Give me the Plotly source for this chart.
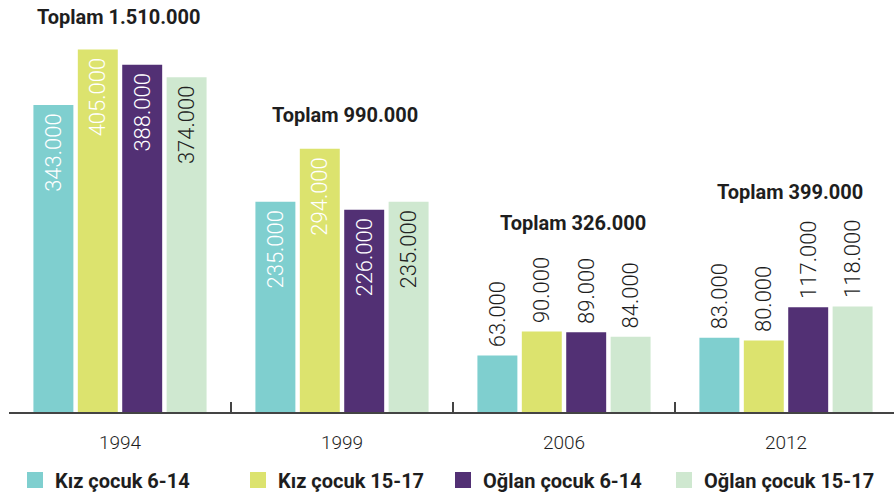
import plotly.graph_objects as go

years = ["1994", "1999", "2006", "2012"]
series_names = ["Kız çocuk 6-14", "Kız çocuk 15-17", "Oğlan çocuk 6-14", "Oğlan çocuk 15-17"]
kiz_6_14 = [343000, 235000, 63000, 83000]
kiz_15_17 = [405000, 294000, 90000, 80000]
oglan_6_14 = [388000, 226000, 89000, 117000]
oglan_15_17 = [374000, 235000, 84000, 118000]
totals = [1510000, 990000, 326000, 399000]

series_values = [kiz_6_14, kiz_15_17, oglan_6_14, oglan_15_17]
colors = ["#7fcfcf", "#dce36e", "#523074", "#cfe8d0"]
inside_text_colors = ["#ffffff", "#ffffff", "#ffffff", "#222222"]
text_positions = ["inside", "inside", "outside", "outside"]
text_templates = ["%{y:,.0f}\u00a0" if p == "inside" else "\u00a0%{y:,.0f}" for p in text_positions]
dark = "#1e1e1e"

fig = go.Figure()
legend_ids = ["legend", "legend2", "legend3", "legend4"]
for i, (name, vals) in enumerate(zip(series_names, series_values)):
    tcolors = [inside_text_colors[i] if p == "inside" else dark for p in text_positions]
    fig.add_trace(go.Bar(
        x=years, y=vals, name=name, marker=dict(color=colors[i], line=dict(width=0)),
        texttemplate=text_templates, textposition=text_positions, textangle=-90,
        insidetextanchor="end", constraintext="none", cliponaxis=False,
        textfont=dict(family="Roboto", size=22, weight=300, color=tcolors),
        showlegend=False, hoverinfo="skip",
    ))
    fig.add_trace(go.Scatter(
        x=[None], y=[None], mode="markers", name=name,
        marker=dict(symbol="square", size=16, color=colors[i]),
        legend=legend_ids[i], showlegend=True,
    ))

# title annotation positions (pixel offsets)
ann_y_px = [17, 115, 223, 192]
ann_xshift = [-2, 3, 9, 4]
plot_h = 412
for idx, (tot, ypx, xs) in enumerate(zip(totals, ann_y_px, ann_xshift)):
    label = "Toplam " + f"{tot:,}".replace(",", ".")
    fig.add_annotation(x=idx, xref="x", y=(plot_h - ypx) / plot_h, yref="paper",
                       text=label, showarrow=False, xshift=xs, yanchor="middle",
                       font=dict(family="Roboto", size=20, weight=700, color=dark))

legend_x_px = [15, 238, 443, 664]
legend_common = dict(orientation="h", xref="container", yref="container",
                     xanchor="left", yanchor="middle", y=1 - 480 / 493,
                     font=dict(family="Roboto", size=20, weight=700, color=dark),
                     bgcolor="rgba(0,0,0,0)", borderwidth=0, itemclick=False)
fig.update_layout(
    width=894, height=493,
    margin=dict(l=9, r=0, t=0, b=493 - plot_h),
    paper_bgcolor="white", plot_bgcolor="white",
    separators=",.",
    barmode="group", bargap=0.2, bargroupgap=0.1,
    legend=dict(x=legend_x_px[0] / 894, **legend_common),
    legend2=dict(x=legend_x_px[1] / 894, **legend_common),
    legend3=dict(x=legend_x_px[2] / 894, **legend_common),
    legend4=dict(x=legend_x_px[3] / 894, **legend_common),
    xaxis=dict(type="category", range=[-0.5, -0.5 + 885 / 222], showline=True,
               linecolor="#444444", linewidth=1.5, ticks="inside", ticklen=10,
               tickwidth=1.5, tickcolor="#444444", tickson="boundaries",
               showgrid=False, ticklabelstandoff=12,
               tickfont=dict(family="Roboto", size=19, weight=300, color=dark)),
    yaxis=dict(range=[0, plot_h / 0.895 * 1000], visible=False, showgrid=False),
    font=dict(family="Roboto"),
)

fig.write_html("out.html", config={"displayModeBar": False},
               post_script="document.body.style.margin='0';")
